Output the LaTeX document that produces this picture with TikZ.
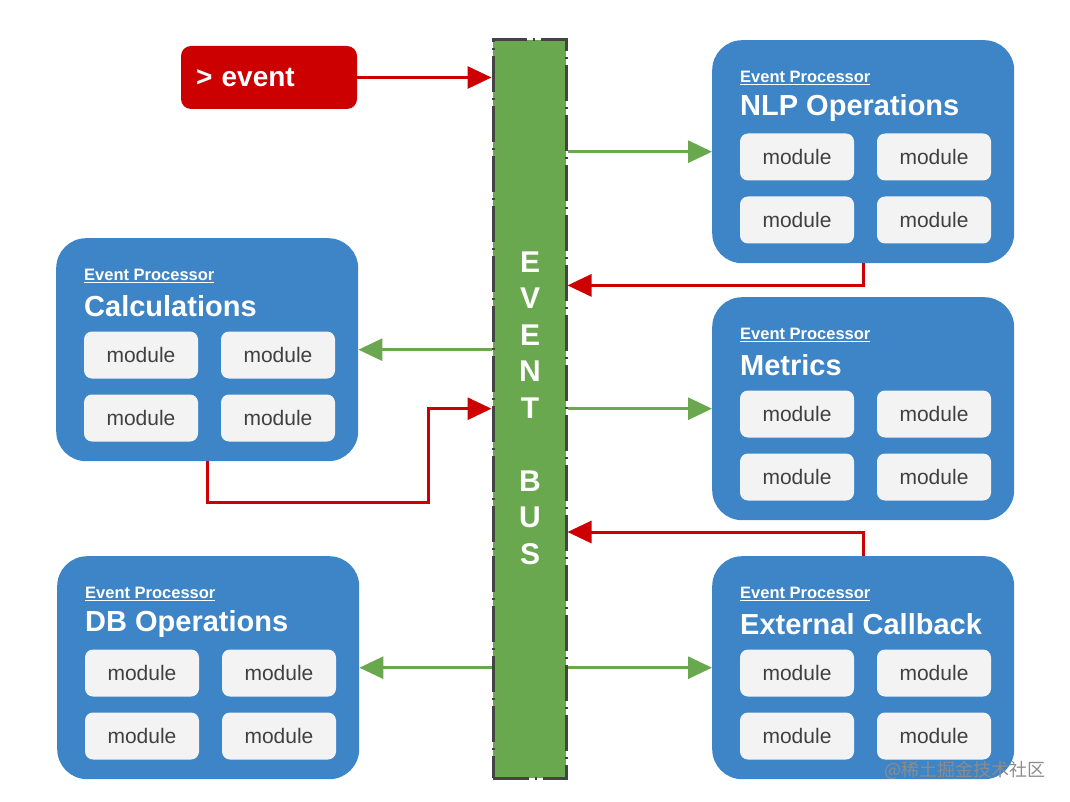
\documentclass[tikz,border=0pt]{standalone}
\usepackage{fontspec}
\setmainfont{Liberation Sans}
\newfontfamily\cjkfont{Noto Sans CJK SC}
\usetikzlibrary{arrows.meta}
\definecolor{procblue}{HTML}{3D85C6}
\definecolor{busgreen}{HTML}{6AA84F}
\definecolor{evred}{HTML}{CC0000}
\definecolor{modgray}{HTML}{F3F3F3}
\definecolor{busedge}{HTML}{434343}
\tikzset{
  procbox/.style={rectangle, rounded corners=30pt, fill=procblue, minimum width=302pt, minimum height=223pt, anchor=north west},
  modbox/.style={rectangle, rounded corners=8pt, fill=modgray, minimum width=114pt, minimum height=47pt, text=black!75, font=\fontsize{21}{24}\selectfont},
  garrow/.style={draw=busgreen, line width=3pt, -{Triangle[length=24pt,width=22pt]}},
  rarrow/.style={draw=evred, line width=3pt, -{Triangle[length=24pt,width=22pt]}},
}
\begin{document}
\begin{tikzpicture}[x=1pt,y=-1pt]
    \useasboundingbox (0,0) rectangle (1070,802);
    % the bus
    \node[rectangle, fill=busgreen, draw=busedge, line width=3pt, dash pattern=on 36pt off 6pt on 2pt off 6pt, minimum width=73pt, minimum height=738pt] (bus) at (529.5,409) {};
    \node[text=white, align=center, font=\fontsize{30}{36.5}\selectfont\bfseries] (bustext) at (530,408) {\textbf{E}\\\textbf{V}\\\textbf{E}\\\textbf{N}\\\textbf{T}\\[36.5pt]\textbf{B}\\\textbf{U}\\\textbf{S}};
    % incoming event
    \node[rectangle, rounded corners=10pt, fill=evred, minimum width=176pt, minimum height=63pt, text=white, font=\bfseries\fontsize{28}{32}\selectfont, text width=146pt] (event) at (269,77.5) {> event};
    % processors
    \foreach \n/\t/\x/\y in {nlp/NLP Operations/712/40, calc/Calculations/56/238, metrics/Metrics/712/297, db/DB Operations/57/556, ext/External Callback/712/556}{
        \node[procbox] (\n) at (\x,\y) {};
        \node[anchor=west, text=white, font=\bfseries\fontsize{16.5}{18}\selectfont, inner sep=0pt] (\n-ep) at ([shift={(28,38)}]\n.north west) {\underline{Event Processor}};
        \node[anchor=west, text=white, font=\bfseries\fontsize{29}{32}\selectfont, inner sep=0pt] (\n-title) at ([shift={(28,68)}]\n.north west) {\t};
        \node[modbox] (\n-m1) at ([shift={(85,117)}]\n.north west) {module};
        \node[modbox] (\n-m2) at ([shift={(222,117)}]\n.north west) {module};
        \node[modbox] (\n-m3) at ([shift={(85,180)}]\n.north west) {module};
        \node[modbox] (\n-m4) at ([shift={(222,180)}]\n.north west) {module};
    }
    % connectors
    \draw[rarrow] (event.east) -- (bus.west |- event.east);
    \draw[garrow] (bus.east |- nlp.west) -- (nlp.west);
    \draw[rarrow] (nlp.south) -- ++(0,22) coordinate (nlpturn) -- (nlpturn -| bus.east);
    \draw[garrow] (bus.west |- calc.east) -- (calc.east);
    \draw[rarrow] (calc.south) -- ++(0,41) -- ++(221,0) coordinate (calcturn) |- (bus.west |- metrics.west);
    \draw[garrow] (bus.east |- metrics.west) -- (metrics.west);
    \draw[rarrow] (ext.north) -- ++(0,-24) coordinate (extturn) -- (extturn -| bus.east);
    \draw[garrow] (bus.west |- db.east) -- (db.east);
    \draw[garrow] (bus.east |- ext.west) -- (ext.west);
    % watermark
    \node[anchor=west, text=black!45, font=\cjkfont\fontsize{18}{20}\selectfont, inner sep=0pt] (mark) at (884,770) {@稀土掘金技术社区};
\end{tikzpicture}
\end{document}
